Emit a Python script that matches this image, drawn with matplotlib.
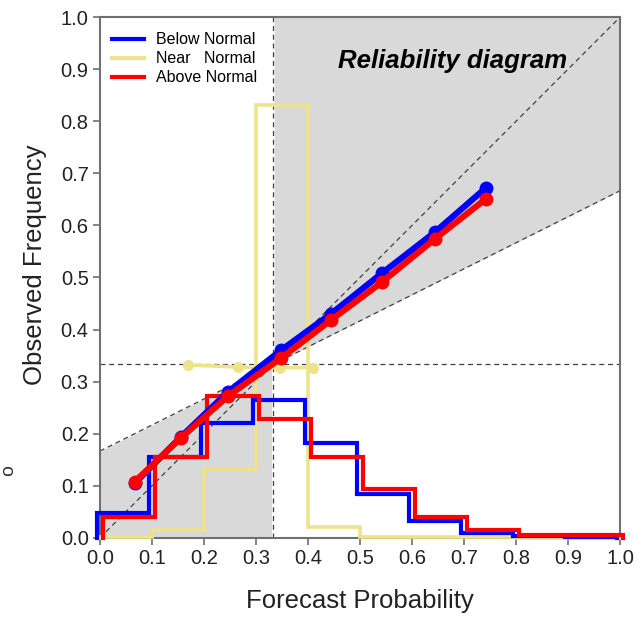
import numpy as np
import matplotlib
matplotlib.use("Agg")
import matplotlib.pyplot as plt
import matplotlib.transforms as mtransforms

plt.rcParams['font.family'] = ['Liberation Sans', 'DejaVu Sans']

# reliability curves
fc_x = [0.067, 0.156, 0.246, 0.348, 0.444, 0.542, 0.644, 0.742]
below_y = [0.105, 0.194, 0.280, 0.360, 0.430, 0.508, 0.587, 0.672]
above_y = [0.108, 0.192, 0.272, 0.345, 0.418, 0.491, 0.574, 0.651]
near_x = [0.170, 0.265, 0.346, 0.410]
near_y = [0.332, 0.328, 0.327, 0.327]

# forecast frequency histograms (bins of 0.1)
bin_edges = np.round(np.arange(0, 1.01, 0.1), 1)
below_hist = [0.047, 0.156, 0.220, 0.265, 0.182, 0.084, 0.033, 0.010, 0.004, 0.002]
near_hist = [0.002, 0.015, 0.132, 0.831, 0.021, 0.002, 0.001, 0.001, 0.0, 0.0]
above_hist = [0.040, 0.155, 0.272, 0.228, 0.155, 0.094, 0.040, 0.015, 0.006, 0.005]

clim = 1.0 / 3.0

BLUE = '#0000ff'
RED = '#ff0000'
YEL = '#ede48a'
GRAY = '#d9d9d9'

fig = plt.figure(figsize=(6.44, 6.19), dpi=100)
ax = fig.add_axes([0.155, 0.131, 0.808, 0.8415])

# skill region shading
xs = np.linspace(0, 1, 201)
noskill = (xs + clim) / 2
ax.fill_between(xs, 0, noskill, where=xs <= clim + 1e-9, color=GRAY, lw=0, zorder=0)
ax.fill_between(xs, noskill, 1, where=xs >= clim - 1e-9, color=GRAY, lw=0, zorder=0)

dash = dict(color='#404040', lw=0.9, ls=(0, (4, 3)), zorder=1)
ax.plot([0, 1], [0, 1], **dash)
ax.plot(xs, noskill, **dash)
ax.axvline(clim, **dash)
ax.axhline(clim, **dash)

# histograms as steps, slightly offset like the original
def step_hist(vals, color, dx, lw=3.0):
    tr = mtransforms.offset_copy(ax.transData, fig=fig, x=dx, y=0, units='points')
    xx = np.repeat(bin_edges, 2)
    yy = np.concatenate([[0], np.repeat(vals, 2), [0]])
    ax.plot(xx, yy, color=color, lw=lw, transform=tr, zorder=3,
            solid_joinstyle='miter', clip_on=False)

step_hist(near_hist, YEL, 0.0, lw=2.6)
step_hist(below_hist, BLUE, -2.2)
step_hist(above_hist, RED, 2.2)

# reliability lines
ax.plot(near_x, near_y, color=YEL, lw=2.6, marker='o', ms=7, zorder=4)
ax.plot(fc_x, below_y, color=BLUE, lw=4.5, marker='o', ms=9, zorder=5)
ax.plot(fc_x, above_y, color=RED, lw=4.5, marker='o', ms=9, zorder=6)

# legend
handles = [plt.Line2D([], [], color=BLUE, lw=3),
           plt.Line2D([], [], color=YEL, lw=3),
           plt.Line2D([], [], color=RED, lw=3)]
ax.legend(handles, ['Below Normal', 'Near   Normal', 'Above Normal'],
          loc='upper left', frameon=False, fontsize=11.5, handlelength=2.0,
          handletextpad=0.75, labelspacing=0.25, borderaxespad=0.0,
          borderpad=0.0, bbox_to_anchor=(0.024, 0.971))

ax.text(0.677, 0.915, 'Reliability diagram', transform=ax.transAxes,
        fontsize=18.5, fontweight='bold', fontstyle='italic', ha='center', va='center')

ax.set_xlim(0, 1)
ax.set_ylim(0, 1)
ticks = np.round(np.arange(0, 1.01, 0.1), 1)
ax.set_xticks(ticks)
ax.set_yticks(ticks)
ax.set_xticklabels([f'{t:.1f}' for t in ticks])
ax.set_yticklabels([f'{t:.1f}' for t in ticks])
ax.tick_params(labelsize=14.5, colors='#707070', labelcolor='#222222',
               length=5, width=1.2, pad=3)
for s in ax.spines.values():
    s.set_color('#707070')
    s.set_linewidth(1.5)

ax.set_xlabel('Forecast Probability', fontsize=18.5, color='#222222')
ax.set_ylabel('Observed Frequency', fontsize=18.5, color='#222222')
ax.xaxis.set_label_coords(0.5, -0.098)
ax.yaxis.set_label_coords(-0.102, 0.524)

# clipped letter at the left edge of the original
fig.text(0.0, 0.24, 'o', fontsize=14, color='#333333', ha='left', va='center',
         rotation=90)

fig.savefig('out.png', dpi=100)
